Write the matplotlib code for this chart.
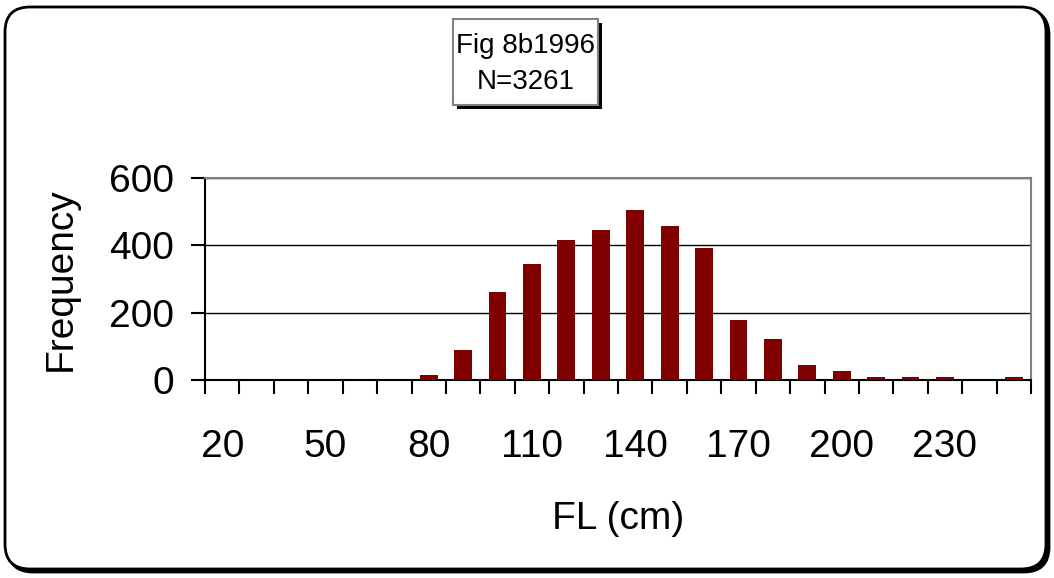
import numpy as np
import matplotlib.pyplot as plt
from matplotlib.patches import FancyBboxPatch, Rectangle

plt.rcParams['font.family'] = ['Liberation Sans', 'DejaVu Sans']

# ---------- data ----------
fl_bins = [20, 30, 40, 50, 60, 70, 80, 90, 100, 110, 120, 130,
           140, 150, 160, 170, 180, 190, 200, 210, 220, 230, 240, 250]
freq = [0, 0, 0, 0, 0, 0, 16, 88, 260, 344, 415, 445,
        505, 458, 392, 177, 123, 45, 27, 9, 9, 9, 0, 9]
y_ticks = [0, 200, 400, 600]
title_lines = ["Fig 8b1996", "N=3261"]

W, H = 1054, 578
fig = plt.figure(figsize=(W / 100, H / 100), dpi=100)

# overlay in pixel units for the frame and the caption box
bg = fig.add_axes([0, 0, 1, 1], zorder=0)
bg.set_xlim(0, W); bg.set_ylim(H, 0); bg.set_axis_off()
bg.add_patch(FancyBboxPatch((8, 10), 1041, 562, boxstyle="round,pad=0,rounding_size=25",
                            fc="black", ec="black", lw=2))
bg.add_patch(FancyBboxPatch((5, 7), 1041, 562, boxstyle="round,pad=0,rounding_size=25",
                            fc="white", ec="black", lw=2))
bg.add_patch(Rectangle((457, 23), 145, 86, fc="black", ec="none"))
bg.add_patch(Rectangle((453, 19), 145, 86, fc="white", ec="#808080", lw=1.5))
bg.text(525.5, 46, title_lines[0], ha="center", va="center", fontsize=20)
bg.text(525.5, 82, title_lines[1], ha="center", va="center", fontsize=20)

# ---------- main chart ----------
L, R, T, B = 205, 1031, 178, 380
ax = fig.add_axes([L / W, 1 - B / H, (R - L) / W, (B - T) / H], zorder=1)
x = np.arange(len(fl_bins))
ax.bar(x, freq, width=0.52, color="#800000", zorder=3)

ax.set_xlim(-0.5, len(fl_bins) - 0.5)
ax.set_ylim(0, 600)
ax.set_yticks(y_ticks)
ax.yaxis.grid(True, color="black", lw=1)
ax.set_axisbelow(True)

# boundary ticks, labels every third bin
ax.set_xticks(np.arange(len(fl_bins) + 1) - 0.5)
ax.set_xticklabels([])
ax.set_xticks(x[::3], [str(v) for v in fl_bins[::3]], minor=True)
ax.tick_params(axis="x", which="major", direction="out", length=10, width=1.5)
ax.tick_params(axis="x", which="minor", length=0, pad=35, labelsize=28)
ax.tick_params(axis="y", direction="out", length=10, width=1.5, pad=12, labelsize=28)

for s in ("left", "bottom"):
    ax.spines[s].set_color("black"); ax.spines[s].set_linewidth(1.5)
for s in ("top", "right"):
    ax.spines[s].set_color("#808080"); ax.spines[s].set_linewidth(1.5)

ax.set_xlabel("FL (cm)", fontsize=28, labelpad=26)
ax.set_ylabel("Frequency", fontsize=28, labelpad=22)

fig.savefig("out.png", dpi=100, facecolor="white")
